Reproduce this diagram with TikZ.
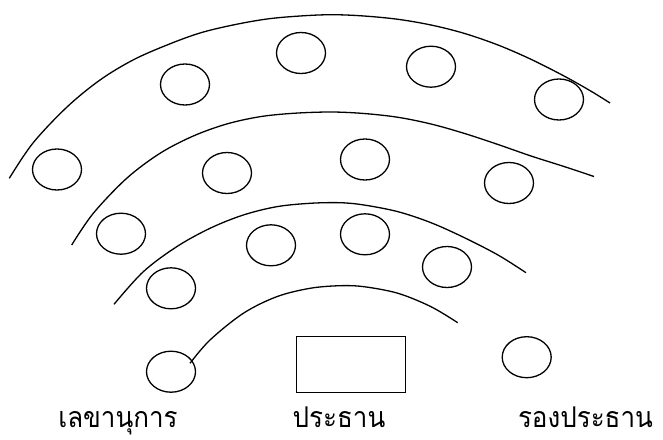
\documentclass[tikz,border=0pt]{standalone}
\usepackage{fontspec}
\newfontfamily\thaifont[Script=Thai]{Loma}
\usetikzlibrary{shapes.geometric}
\tikzset{
  seat/.style={ellipse, draw, line width=1.3pt, minimum width=49pt, minimum height=41pt, inner sep=0pt},
  chairbox/.style={rectangle, draw, line width=1.3pt, minimum width=109pt, minimum height=56pt, inner sep=0pt},
  row/.style={line width=1.3pt, smooth, tension=0.55},
  lbl/.style={anchor=base, inner sep=0pt, font=\thaifont\fontsize{26}{30}\selectfont}
}
\begin{document}
\begin{tikzpicture}[x=1pt,y=-1pt]
\useasboundingbox (0,0) rectangle (663,439);
% arcs
\draw[row] plot coordinates {(9.3,178.3) (33,143) (67,107) (100,80) (133,60) (167,45) (200,33) (233,25) (267,19) (300,16) (332,14.7) (364,16) (398,19.3) (431,25) (464,33.3) (498,45) (531,59.3) (564,76) (591,91.2) (610,103)};
\draw[row] plot coordinates {(71.7,245) (93.3,213.3) (126.7,178.3) (160,153.3) (193.3,136) (226.7,124) (260,116.7) (293.3,113.3) (331,112) (364,113.5) (398,117.3) (431,124) (464,133.3) (498,144.5) (531,156) (564,166.5) (594,176.5)};
\draw[row] plot coordinates {(114,304.3) (143.3,271.7) (176.7,246.7) (210,228.3) (243.3,215) (276.7,206.7) (310,203.3) (340,202.7) (364,205) (398,211.7) (431,222.7) (464,237.5) (498,255) (526,272.7)};
% seats
\node[seat] (a1) at (57,169.5) {};
\node[seat] (a2) at (185,84.5) {};
\node[seat] (a3) at (301,53) {};
\node[seat] (a4) at (431,66.7) {};
\node[seat] (a5) at (559,99.5) {};
\node[seat] (b1) at (121,233.7) {};
\node[seat] (b2) at (227,173) {};
\node[seat] (b3) at (365,159.5) {};
\node[seat] (b4) at (509,183) {};
\node[seat] (c1) at (171,288.3) {};
\node[seat] (c2) at (271,245.3) {};
\node[seat] (c3) at (365,234.3) {};
\node[seat] (c4) at (447,267) {};
\node[seat] (sec) at (171,371.7) {};
\node[chairbox] (chair) at (351,364.5) {};
\node[seat] (vice) at (526.7,357.2) {};
\draw[row] plot coordinates {(190,363.3) (210,340) (243.3,313.3) (276.7,296.7) (310,288.3) (340,285.7) (364,286.7) (398,293.3) (431,306.7) (457.7,322.7)};
% labels
\node[lbl] (tsec) at (118,427) {\scalebox{1}[1.1]{เลขานุการ}};
\node[lbl] (tchair) at (339,427) {\scalebox{1}[1.1]{ประธาน}};
\node[lbl] (tvice) at (585.5,427) {\scalebox{1}[1.1]{รองประธาน}};
\end{tikzpicture}
\end{document}
